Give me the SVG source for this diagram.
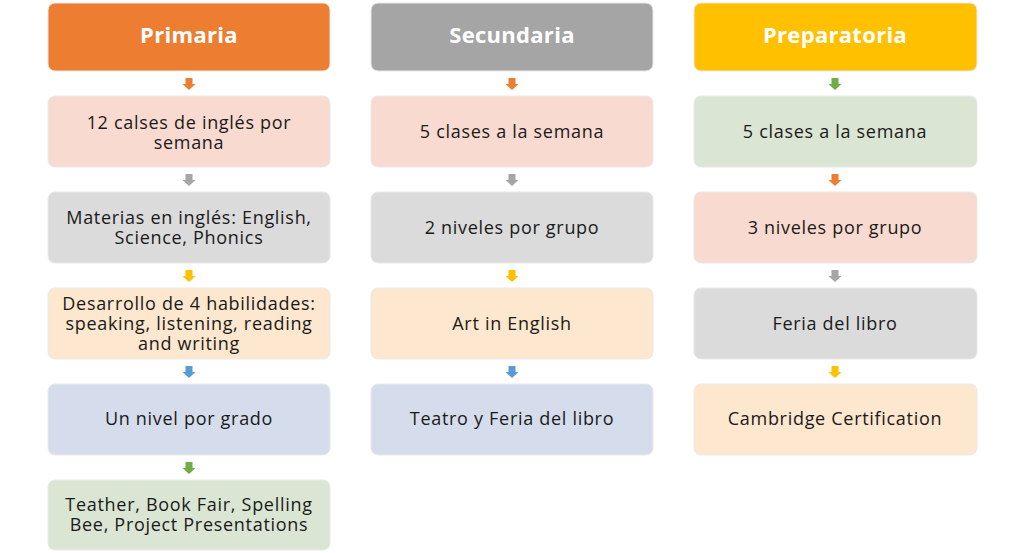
<svg xmlns="http://www.w3.org/2000/svg" width="1024" height="553" viewBox="0 0 1024 553">
<style>
.box{stroke:#e9e9e9;stroke-width:1}
.t{font-family:"Open Sans","Noto Sans",sans-serif;font-size:18px;letter-spacing:0.7px;fill:#1a1a1a;text-anchor:middle}
.h{font-family:"Open Sans","Noto Sans",sans-serif;font-size:22px;letter-spacing:0.3px;font-weight:bold;fill:#ffffff;text-anchor:middle}
.or{fill:#ED7D31}.gr{fill:#A5A5A5}.ye{fill:#FFC000}.bl{fill:#5B9BD5}.gn{fill:#70AD47}
.lor{fill:#F9DAD0}.lgr{fill:#DBDBDB}.lye{fill:#FDE7CE}.lbl{fill:#D5DDEC}.lgn{fill:#DAE5D4}
</style>
<defs>
<path id="arr" d="M-3.5,0 h7 v6 h3 l-6.5,6 l-6.5,-6 h3 z"/>
</defs>
<rect width="1024" height="553" fill="#ffffff"/>

<g id="primaria">
<g id="p0"><rect class="box or" x="48" y="3" width="282" height="68" rx="7"/><text class="h" x="189" y="43">Primaria</text></g>
<g id="p1"><rect class="box lor" x="48" y="96" width="282" height="71" rx="7"/><text class="t" x="189" y="129">12 calses de inglés por</text><text class="t" x="189" y="149">semana</text></g>
<g id="p2"><rect class="box lgr" x="48" y="192" width="282" height="71" rx="7"/><text class="t" x="189" y="224">Materias en inglés: English,</text><text class="t" x="189" y="244">Science, Phonics</text></g>
<g id="p3"><rect class="box lye" x="48" y="288" width="282" height="71" rx="7"/><text class="t" x="189" y="310">Desarrollo de 4 habilidades:</text><text class="t" x="189" y="330">speaking, listening, reading</text><text class="t" x="189" y="350">and writing</text></g>
<g id="p4"><rect class="box lbl" x="48" y="384" width="282" height="71" rx="7"/><text class="t" x="189" y="425">Un nivel por grado</text></g>
<g id="p5"><rect class="box lgn" x="48" y="480" width="282" height="70" rx="7"/><text class="t" x="189" y="511">Teather, Book Fair, Spelling</text><text class="t" x="189" y="531">Bee, Project Presentations</text></g>
</g>

<g id="secundaria">
<g id="s0"><rect class="box gr" x="371" y="3" width="282" height="68" rx="7"/><text class="h" x="512" y="43">Secundaria</text></g>
<g id="s1"><rect class="box lor" x="371" y="96" width="282" height="71" rx="7"/><text class="t" x="512" y="138">5 clases a la semana</text></g>
<g id="s2"><rect class="box lgr" x="371" y="192" width="282" height="71" rx="7"/><text class="t" x="512" y="234">2 niveles por grupo</text></g>
<g id="s3"><rect class="box lye" x="371" y="288" width="282" height="71" rx="7"/><text class="t" x="512" y="330">Art in English</text></g>
<g id="s4"><rect class="box lbl" x="371" y="384" width="282" height="71" rx="7"/><text class="t" x="512" y="425">Teatro y Feria del libro</text></g>
</g>

<g id="preparatoria">
<g id="r0"><rect class="box ye" x="694" y="3" width="283" height="68" rx="7"/><text class="h" x="835" y="43">Preparatoria</text></g>
<g id="r1"><rect class="box lgn" x="694" y="96" width="283" height="71" rx="7"/><text class="t" x="835" y="138">5 clases a la semana</text></g>
<g id="r2"><rect class="box lor" x="694" y="192" width="283" height="71" rx="7"/><text class="t" x="835" y="234">3 niveles por grupo</text></g>
<g id="r3"><rect class="box lgr" x="694" y="288" width="283" height="71" rx="7"/><text class="t" x="835" y="330">Feria del libro</text></g>
<g id="r4"><rect class="box lye" x="694" y="384" width="283" height="71" rx="7"/><text class="t" x="835" y="425">Cambridge Certification</text></g>
</g>

<g id="connectors">
<use href="#arr" class="or" x="189" y="78"/>
<use href="#arr" class="gr" x="189" y="174"/>
<use href="#arr" class="ye" x="189" y="270"/>
<use href="#arr" class="bl" x="189" y="366"/>
<use href="#arr" class="gn" x="189" y="462"/>
<use href="#arr" class="or" x="512" y="78"/>
<use href="#arr" class="gr" x="512" y="174"/>
<use href="#arr" class="ye" x="512" y="270"/>
<use href="#arr" class="bl" x="512" y="366"/>
<use href="#arr" class="gn" x="835" y="78"/>
<use href="#arr" class="or" x="835" y="174"/>
<use href="#arr" class="gr" x="835" y="270"/>
<use href="#arr" class="ye" x="835" y="366"/>
</g>
</svg>
